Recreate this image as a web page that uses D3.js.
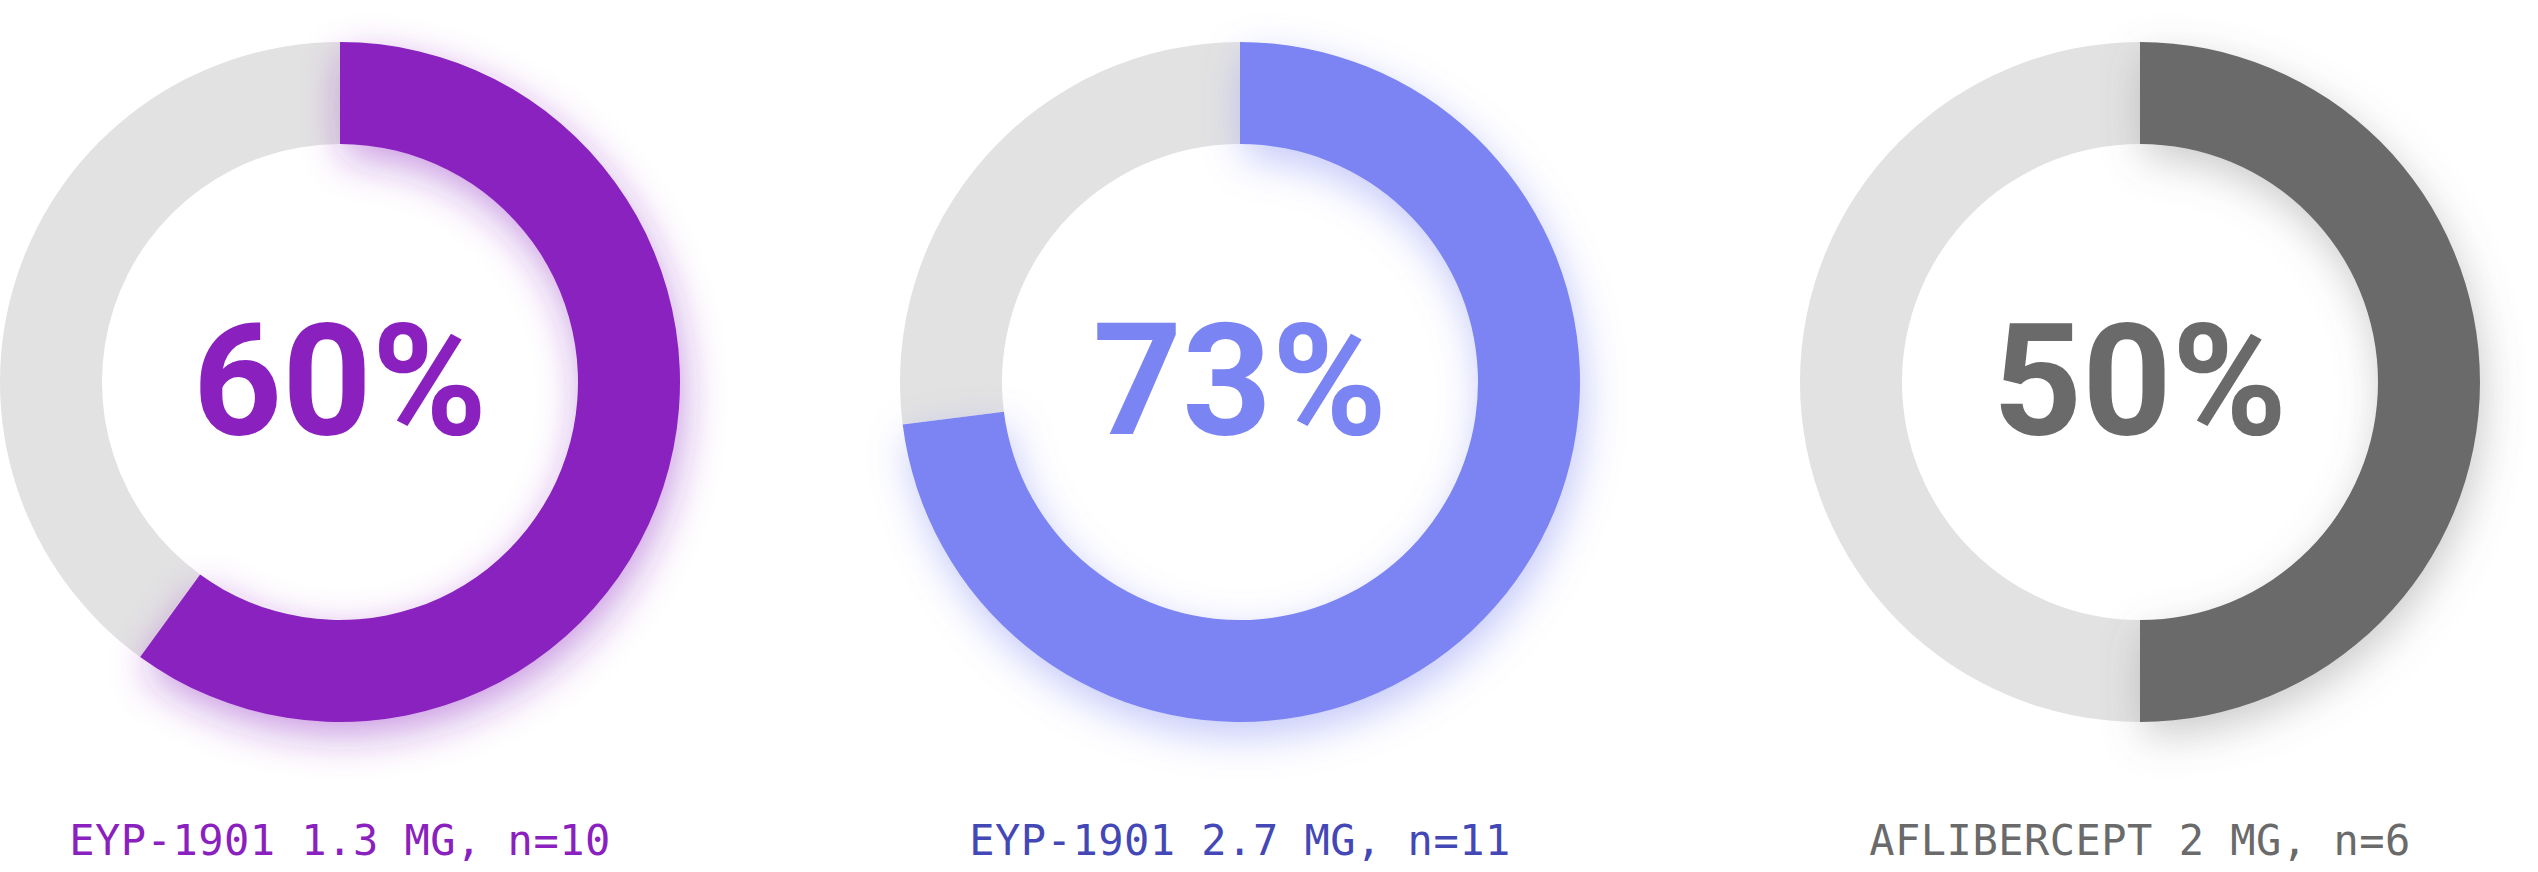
<!DOCTYPE html>
<html>
<head>
<meta charset="utf-8">
<script src="https://cdn.jsdelivr.net/npm/d3@7"></script>
<style>
  html, body { margin: 0; padding: 0; background: #ffffff; }
  svg { display: block; }
</style>
</head>
<body>
<svg id="chart"></svg>
<script>
// data
var groups = ["EYP-1901 1.3 MG, n=10", "EYP-1901 2.7 MG, n=11", "AFLIBERCEPT 2 MG, n=6"];
var values = [60, 73, 50];
var arcColors = ["#8a21bf", "#7b84f3", "#6a6a6a"];
var labelColors = ["#8a21bf", "#4447b6", "#6a6a6a"];
var trackColor = "#e2e2e2";

var width = 2538, height = 872;
var outerR = 340, innerR = 238;
var cy = 382, labelY = 855;

var svg = d3.select("#chart")
    .attr("width", width)
    .attr("height", height);

var x = d3.scalePoint()
    .domain(groups)
    .range([340, 2140]);

var pie = d3.pie().sort(null).value(function(d) { return d; });
var arc = d3.arc().innerRadius(innerR).outerRadius(outerR);

// soft glow under the coloured arcs
var defs = svg.append("defs");
arcColors.forEach(function(c, i) {
    defs.append("filter")
        .attr("id", "glow" + i)
        .attr("x", "-30%").attr("y", "-30%")
        .attr("width", "160%").attr("height", "160%")
      .append("feDropShadow")
        .attr("dx", 4).attr("dy", 14)
        .attr("stdDeviation", 20)
        .attr("flood-color", c)
        .attr("flood-opacity", i == 2 ? 0.35 : 0.45);
});

var donut = svg.selectAll(".donut")
    .data(groups)
    .enter().append("g")
    .attr("class", "donut")
    .attr("transform", function(d) { return "translate(" + x(d) + "," + cy + ")"; });

donut.each(function(d, i) {
    var g = d3.select(this);
    var slices = pie([values[i], 100 - values[i]]);

    g.append("path")
        .attr("d", arc(slices[1]))
        .attr("fill", trackColor);

    g.append("path")
        .attr("d", arc(slices[0]))
        .attr("fill", arcColors[i])
        .attr("filter", "url(#glow" + i + ")");

    g.append("text")
        .attr("text-anchor", "middle")
        .attr("y", 52)
        .attr("font-family", "Roboto, 'Noto Sans', sans-serif")
        .attr("font-weight", 700)
        .attr("font-size", 156)
        .attr("fill", arcColors[i])
        .text(values[i] + "%");
});

svg.selectAll(".label")
    .data(groups)
    .enter().append("text")
    .attr("class", "label")
    .attr("x", function(d) { return x(d); })
    .attr("y", labelY)
    .attr("text-anchor", "middle")
    .attr("font-family", "'DejaVu Sans Mono', monospace")
    .attr("font-size", 42)
    .attr("letter-spacing", 0.5)
    .attr("fill", function(d, i) { return labelColors[i]; })
    .text(function(d) { return d; });
</script>
</body>
</html>
